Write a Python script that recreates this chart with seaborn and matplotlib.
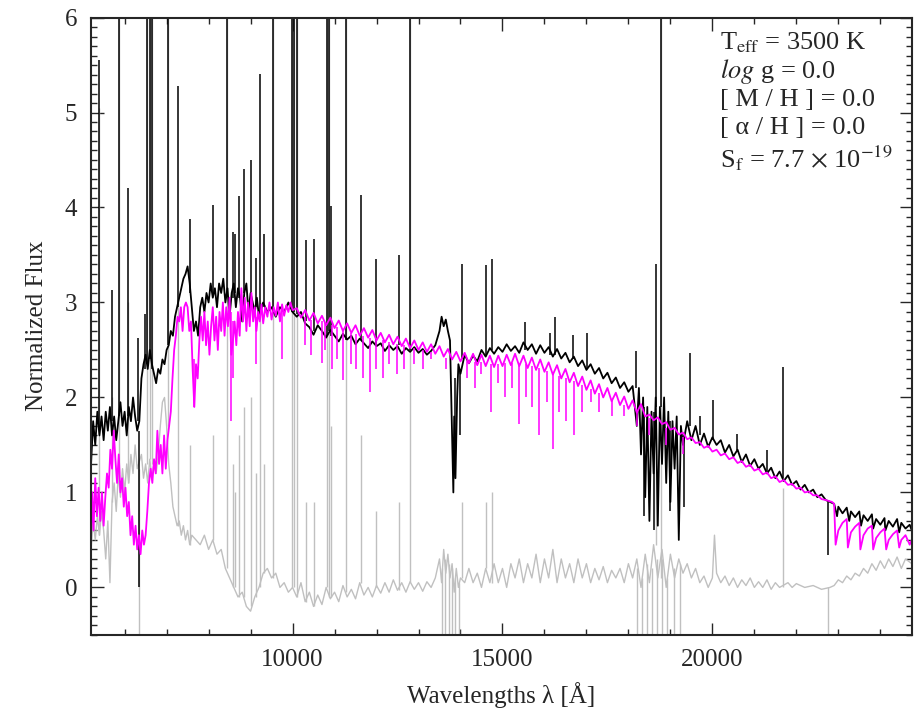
# Observed spectrum vs. model fit (normalised flux)
import numpy as np
import pandas as pd
import matplotlib
matplotlib.use("Agg")
import matplotlib.pyplot as plt
import seaborn as sns
from matplotlib.ticker import MultipleLocator

# ---- observed spectrum (black), continuum part ----
black_wl = [5200, 5250, 5300, 5350, 5400, 5450, 5500, 5550, 5600, 5650, 5700, 5750, 5800, 5850, 5900, 5950,
            6000, 6050, 6100, 6150, 6200, 6250, 6300, 6350, 6400, 6450, 6500, 6550, 6600, 6650, 6700, 6750,
            6800, 6850, 6900, 6950, 7000, 7050, 7100, 7150, 7200, 7250, 7300, 7350, 7400, 7450, 7500, 7550,
            7600, 7650, 7700, 7750, 7800, 7850, 7900, 7950, 8000, 8050, 8100, 8150, 8200, 8250, 8300, 8350,
            8400, 8450, 8500, 8550, 8600, 8650, 8700, 8750, 8800, 8850, 8900, 8950, 9000, 9050, 9100, 9150,
            9200, 9300, 9400, 9500, 9600, 9700, 9800, 9900, 10000,
            10100, 10200, 10300, 10400, 10500, 10600, 10700, 10800, 10900, 11000, 11100, 11200, 11300, 11400,
            11500, 11600, 11700, 11800, 11900, 12000, 12100, 12200, 12300, 12400, 12500, 12600, 12700, 12800,
            12900, 13000, 13100, 13200, 13300, 13400, 13500, 13550, 13600, 13650, 13700, 13750, 13800, 13830,
            13850, 13880, 13920, 13950, 14000, 14100, 14200, 14300, 14400, 14500, 14600, 14700, 14800, 14900,
            15000, 15100, 15200, 15300, 15400, 15500, 15600, 15700, 15800, 15900, 16000, 16100, 16200, 16300,
            16400, 16500, 16600, 16700, 16800, 16900, 17000, 17100, 17200, 17300, 17400, 17500, 17600, 17700,
            17800, 17900, 18000, 18100, 18200, 18250, 18300, 18350, 18400, 18450, 18500, 18550, 18600, 18650,
            18700, 18750, 18800, 18850, 18900, 18950, 19000, 19050, 19100, 19150, 19200, 19250, 19300, 19400,
            19500, 19600, 19700, 19800, 19900, 20000, 20100, 20200, 20300, 20400, 20500, 20600, 20700, 20800,
            20900, 21000, 21100, 21200, 21300, 21400, 21500, 21600, 21700, 21800, 21900, 22000, 22100, 22200,
            22300, 22400, 22500, 22600, 22700, 22800, 22900, 22970, 23000, 23100, 23200, 23260, 23300, 23400,
            23500, 23540, 23600, 23700, 23800, 23830, 23900, 24000, 24100, 24120, 24200, 24300, 24400, 24450,
            24500, 24600, 24700, 24750]
black_flux = [1.30, 1.75, 1.50, 1.85, 1.60, 1.80, 1.55, 1.85, 1.65, 1.90, 1.60, 1.80, 1.55, 1.75, 1.95, 1.70,
              1.85, 1.60, 1.90, 1.75, 2.00, 1.80, 1.65, 1.75, 2.20, 2.35, 2.45, 2.30, 2.50, 2.35, 2.25, 2.15,
              2.30, 2.25, 2.40, 2.35, 2.50, 2.55, 2.70, 2.65, 2.85, 2.95, 3.05, 3.15, 3.25, 3.30, 3.38, 3.20,
              2.95, 2.70, 2.80, 2.65, 2.95, 3.05, 2.90, 3.10, 3.00, 3.20, 3.05, 3.15, 2.95, 3.20, 3.10, 3.25,
              3.00, 3.15, 2.85, 3.10, 3.20, 2.95, 3.15, 3.05, 2.80, 3.10, 3.20, 2.90, 3.10, 3.00, 2.90, 3.05,
              2.85, 3.00, 2.90, 2.95, 2.85, 2.95, 2.90, 3.00, 2.90,
              2.85, 2.90, 2.78, 2.74, 2.66, 2.76, 2.70, 2.63, 2.71, 2.65, 2.59, 2.67, 2.61, 2.65,
              2.56, 2.62, 2.57, 2.52, 2.59, 2.54, 2.57, 2.49, 2.55, 2.50, 2.54, 2.46, 2.52, 2.48,
              2.53, 2.47, 2.51, 2.45, 2.49, 2.55, 2.70, 2.85, 2.75, 2.82, 2.70, 2.60, 1.60, 1.00,
              1.80, 1.15, 2.00, 2.35, 2.25, 2.45, 2.36, 2.44, 2.38, 2.50, 2.43, 2.52, 2.46, 2.53,
              2.48, 2.56, 2.49, 2.54, 2.47, 2.58, 2.50, 2.56, 2.46, 2.55, 2.47, 2.53, 2.43, 2.51,
              2.41, 2.47, 2.37, 2.43, 2.33, 2.39, 2.29, 2.35, 2.25, 2.31, 2.20, 2.26, 2.15, 2.21,
              2.10, 2.16, 2.06, 2.12, 1.70, 2.10, 1.40, 2.00, 0.95, 1.90, 0.70, 1.85, 1.20, 2.00,
              0.65, 1.90, 1.30, 2.00, 1.10, 1.85, 0.90, 1.75, 1.25, 1.80, 0.50, 1.70, 1.50, 1.75,
              1.55, 1.70, 1.50, 1.62, 1.48, 1.58, 1.50, 1.55, 1.42, 1.50, 1.38, 1.45, 1.32, 1.40,
              1.28, 1.35, 1.25, 1.30, 1.20, 1.26, 1.15, 1.22, 1.12, 1.18, 1.08, 1.12, 1.03, 1.08,
              1.00, 1.03, 0.95, 0.98, 0.92, 0.90, 0.88, 0.75, 0.85, 0.78, 0.84, 0.70, 0.80, 0.74,
              0.80, 0.65, 0.76, 0.70, 0.77, 0.62, 0.72, 0.66, 0.73, 0.60, 0.70, 0.64, 0.72, 0.58,
              0.68, 0.62, 0.66, 0.60]

# emission spikes in the observed spectrum: wavelength, foot, peak (6.5 = off the top)
black_spike_wl = [5380, 5700, 5857, 6072, 6327, 6477, 6535, 6606, 6661, 7043, 7264, 7567, 8116, 8443,
                  8576, 8640, 8736, 8855, 9015, 9141, 9230, 9308, 9530, 9993, 10024, 10112, 10310, 10501,
                  10818, 10866, 10923, 11281, 11622, 11980, 12535, 12807, 14038, 14603, 14753, 15530,
                  16130, 16250, 16680, 17020, 18180, 18650, 18770, 19470, 19700, 20020, 20590, 21300, 21690]
black_spike_base = [1.70, 1.75, 1.80, 1.80, 1.75, 2.30, 2.35, 2.40, 2.30, 2.55, 2.95, 3.10, 3.10, 3.10,
                    3.05, 3.10, 3.05, 3.10, 3.05, 2.95, 2.90, 2.95, 2.90, 2.90, 2.90, 2.88, 2.80, 2.70,
                    2.65, 2.70, 2.65, 2.60, 2.60, 2.55, 2.55, 2.50, 2.40, 2.45, 2.50, 2.50,
                    2.45, 2.45, 2.40, 2.30, 2.10, 1.90, 1.90, 1.70, 1.60, 1.55, 1.45, 1.20, 1.15]
black_spike_top = [5.55, 3.13, 6.5, 4.20, 2.63, 2.88, 6.5, 6.5, 6.5, 6.5, 5.28, 3.88, 4.03, 6.5,
                   3.74, 3.72, 4.12, 4.40, 4.50, 3.47, 5.41, 3.72, 6.5, 6.5, 6.5, 6.5, 3.66, 3.67,
                   6.5, 6.5, 4.02, 6.5, 4.13, 3.46, 3.50, 6.5, 3.41, 3.39, 3.46, 2.79,
                   2.68, 2.85, 2.66, 2.68, 2.49, 3.41, 6.5, 2.47, 1.80, 1.97, 1.62, 1.45, 2.32]
# deep absorption dips in the observed spectrum
black_dip_wl = [6351, 13870, 13980, 18380, 18610, 19000, 19330, 22750]
black_dip_top = [1.65, 2.20, 2.30, 1.90, 1.85, 1.75, 1.60, 0.92]
black_dip_bottom = [0.00, 1.25, 1.60, 0.75, 0.60, 0.80, 0.85, 0.34]

# ---- residual (grey) ----
gray_wl = [5200, 5250, 5300, 5350, 5400, 5450, 5500, 5550, 5600, 5650, 5700, 5750, 5800, 5850, 5900, 5950,
           6000, 6050, 6100, 6150, 6200, 6250, 6300, 6400, 6450, 6500, 6550, 6600, 6650, 6700, 6750, 6800,
           6850, 6900, 6950, 7000, 7050, 7100, 7150, 7200, 7250, 7300, 7350, 7400, 7450, 7500, 7550, 7600,
           7700, 7800, 7900, 8000, 8100, 8200, 8300, 8400, 8500, 8600, 8700, 8800, 8900, 9000, 9100, 9200,
           9300, 9400, 9500, 9600, 9700, 9800, 9900, 10000,
           10100, 10200, 10300, 10400, 10500, 10600, 10700, 10800, 10900, 11000, 11100, 11200, 11300, 11400,
           11500, 11600, 11700, 11800, 11900, 12000, 12100, 12200, 12300, 12400, 12500, 12600, 12700, 12800,
           12900, 13000, 13100, 13200, 13300, 13400, 13500, 13550, 13600, 13650, 13700, 13750, 13800, 13850,
           13900, 13950, 14000, 14100, 14200, 14300, 14400, 14500, 14600, 14700, 14800, 14900, 15000, 15100,
           15200, 15300, 15400, 15500, 15600, 15700, 15800, 15900, 16000, 16100, 16200, 16300, 16400, 16500,
           16600, 16700, 16800, 16900, 17000, 17100, 17200, 17300, 17400, 17500, 17600, 17700, 17800, 17900,
           18000, 18100, 18200, 18300, 18400, 18500, 18600, 18700, 18800, 18900, 19000, 19100, 19200, 19300,
           19400, 19500, 19600, 19700, 19800, 19900, 20000, 20050, 20100, 20200, 20300, 20400, 20500, 20600,
           20700, 20800, 20900, 21000, 21100, 21200, 21300, 21400, 21500, 21600, 21800, 21900, 22000, 22200,
           22400, 22600, 22800, 22900, 23000, 23100, 23200, 23300, 23400, 23500, 23600, 23700, 23800, 23900,
           24000, 24100, 24200, 24300, 24400, 24500, 24600, 24750]
gray_flux = [0.40, 0.70, 0.50, 0.75, 0.55, 0.80, 0.60, 0.30, 0.70, 0.05, 0.90, 1.10, 0.80, 1.20, 0.95, 1.25,
             1.00, 1.30, 1.10, 1.40, 1.20, 1.50, 1.25, 1.40, 1.15, 1.30, 1.10, 1.35, 1.15, 1.30, 1.20, 1.40,
             1.70, 1.95, 2.00, 1.70, 1.30, 1.10, 0.85, 0.75, 0.65, 0.70, 0.55, 0.65, 0.50, 0.60, 0.45, 0.55,
             0.50, 0.45, 0.55, 0.40, 0.50, 0.35, 0.40, 0.20, 0.10, 0.00, -0.10, -0.05, -0.20, -0.25, -0.10, 0.00,
             0.15, 0.20, 0.10, 0.15, 0.00, 0.05, -0.05, 0.00,
             -0.10, 0.05, -0.15, -0.05, -0.20, -0.08, -0.18, 0.00, -0.12, -0.05, -0.15, 0.02, -0.10, -0.02,
             -0.12, 0.05, -0.08, 0.00, -0.10, 0.02, -0.06, 0.05, -0.05, 0.08, -0.03, 0.05, -0.05, 0.06,
             -0.02, 0.05, -0.04, 0.06, 0.00, 0.10, 0.30, 0.05, 0.40, 0.15, 0.35, 0.10, 0.25, -0.05,
             0.20, 0.00, 0.10, 0.05, 0.20, 0.05, 0.15, 0.00, 0.20, 0.05, 0.25, 0.05, 0.20, 0.00,
             0.25, 0.10, 0.30, 0.05, 0.25, 0.10, 0.35, 0.05, 0.30, 0.10, 0.40, 0.05, 0.30, 0.10,
             0.25, 0.05, 0.30, 0.10, 0.25, 0.05, 0.20, 0.08, 0.22, 0.05, 0.18, 0.10, 0.20, 0.05,
             0.25, 0.10, 0.30, 0.00, 0.35, 0.05, 0.45, 0.10, 0.40, 0.00, 0.35, 0.10, 0.30, 0.15,
             0.25, 0.10, 0.20, 0.05, 0.12, 0.00, 0.10, 0.55, 0.15, 0.05, 0.12, 0.02, 0.10, 0.00,
             0.08, 0.02, 0.10, 0.00, 0.06, 0.00, 0.08, -0.02, 0.05, 0.00, 0.05, 0.00, 0.04, 0.00,
             0.02, -0.02, 0.00, 0.02, 0.08, 0.05, 0.12, 0.08, 0.15, 0.12, 0.20, 0.15, 0.25, 0.18,
             0.28, 0.20, 0.30, 0.22, 0.32, 0.20, 0.30, 0.25]

gray_spike_wl = [5380, 5700, 5857, 6072, 6535, 6606, 6661, 7043, 7264, 7567, 8116, 8443, 8576, 8640,
                 8736, 8855, 9015, 9141, 9230, 9308, 9530, 9993, 10024, 10112, 10310, 10501, 10818, 10866,
                 10923, 11281, 11622, 11980, 12535, 12807, 14038, 14603, 14753, 18650, 18770, 21690]
gray_spike_base = [0.55, 0.90, 1.20, 1.10, 1.30, 1.35, 1.30, 1.70, 0.65, 0.45, 0.50, 0.20, 0.00, 0.00,
                   -0.10, -0.10, -0.20, -0.10, 0.00, 0.15, 0.10, 0.00, 0.00, -0.10, -0.15, -0.20, 0.00, -0.10,
                   -0.10, -0.05, 0.05, 0.00, -0.03, 0.06, 0.10, 0.20, 0.05, 0.45, 0.10, 0.00]
gray_spike_top = [5.05, 2.00, 6.5, 3.00, 6.5, 6.5, 6.5, 6.5, 3.00, 1.50, 1.60, 6.5, 1.30, 1.00,
                  1.60, 1.90, 2.00, 1.20, 3.00, 1.30, 6.5, 6.5, 6.5, 6.5, 0.90, 0.90, 6.5, 6.5,
                  1.70, 6.5, 1.60, 0.80, 0.90, 6.5, 0.90, 0.90, 1.00, 1.80, 6.5, 1.05]
# residual dips that run off the bottom of the plot
gray_dip_wl = [6351, 13570, 13640, 13720, 13800, 13870, 13960, 18210, 18320, 18440, 18560, 18690,
               18810, 18930, 19080, 19240, 22750]
gray_dip_top = [1.25, 0.20, 0.30, 0.25, 0.20, 0.10, 0.05, 0.20, 0.10, 0.25, 0.20, 0.30,
                0.30, 0.10, 0.20, 0.25, 0.00]
gray_dip_bottom = [-0.6] * len(gray_dip_wl)

# ---- model spectrum (magenta) ----
model_wl = [5200, 5230, 5260, 5300, 5340, 5380, 5420, 5460, 5500, 5540, 5580, 5620, 5660, 5700, 5740, 5780,
            5820, 5860, 5900, 5940, 5980, 6020, 6060, 6100, 6140, 6180, 6220, 6260, 6300, 6340, 6380, 6420,
            6460, 6500, 6540, 6580, 6620, 6660, 6700, 6740, 6780, 6820, 6860, 6900, 6940, 6980, 7020, 7060,
            7100, 7140, 7180, 7220, 7260, 7300, 7340, 7380, 7420, 7460, 7500, 7540, 7580, 7620, 7660, 7700,
            7740, 7780, 7820, 7860, 7900, 7940, 7980, 8020, 8060, 8100, 8140, 8180, 8220, 8260, 8300, 8340,
            8380, 8420, 8460, 8500, 8540, 8580, 8620, 8660, 8700, 8740, 8780, 8820, 8860, 8900, 8940, 8980,
            9020, 9060, 9100, 9140, 9180, 9220, 9260, 9300, 9350, 9400, 9450, 9500, 9550, 9600, 9650, 9700,
            9750, 9800, 9850, 9900, 9950, 10000,
            10100, 10200, 10300, 10400, 10500, 10600, 10700, 10800, 10900, 11000, 11100, 11200, 11300, 11400,
            11500, 11600, 11700, 11800, 11900, 12000, 12100, 12200, 12300, 12400, 12500, 12600, 12700, 12800,
            12900, 13000, 13100, 13200, 13300, 13400, 13500, 13600, 13700, 13800, 13900, 14000, 14100, 14200,
            14300, 14400, 14500, 14600, 14700, 14800, 14900, 15000, 15100, 15200, 15300, 15400, 15500, 15600,
            15700, 15800, 15900, 16000, 16100, 16200, 16300, 16400, 16500, 16600, 16700, 16800, 16900, 17000,
            17100, 17200, 17300, 17400, 17500, 17600, 17700, 17800, 17900, 18000, 18100, 18200, 18300, 18400,
            18500, 18600, 18700, 18800, 18900, 19000, 19100, 19200, 19300, 19400, 19500, 19600, 19700, 19800,
            19900, 20000, 20100, 20200, 20300, 20400, 20500, 20600, 20700, 20800, 20900, 21000, 21100, 21200,
            21300, 21400, 21500, 21600, 21700, 21800, 21900, 22000, 22100, 22200, 22300, 22400, 22500, 22600,
            22700, 22850, 22900, 22935, 23000, 23100, 23200, 23227, 23300, 23400, 23500, 23525, 23600, 23700,
            23800, 23830, 23900, 24000, 24100, 24140, 24200, 24300, 24400, 24450, 24500, 24600, 24700, 24750]
model_flux = [0.55, 1.00, 0.60, 1.15, 0.75, 1.05, 0.70, 1.00, 0.65, 0.95, 1.20, 1.05, 1.45, 1.25, 1.65, 1.35,
              1.10, 1.40, 1.00, 1.15, 0.85, 1.05, 0.75, 0.90, 0.55, 0.75, 0.45, 0.65, 0.40, 0.55, 0.35, 0.60,
              0.45, 0.55, 0.80, 1.10, 1.25, 1.10, 1.35, 1.20, 1.65, 1.30, 1.50, 1.20, 1.60, 1.25, 1.55, 1.70,
              1.85, 2.20, 2.50, 2.65, 2.85, 2.80, 2.95, 2.70, 2.95, 3.00, 2.95, 2.70, 2.80, 2.30, 1.90, 2.35,
              2.20, 2.60, 2.85, 2.60, 2.90, 2.55, 2.80, 2.45, 2.75, 2.95, 2.60, 2.85, 2.50, 2.90, 2.70, 3.00,
              2.65, 2.95, 2.75, 3.05, 2.45, 2.60, 2.80, 2.55, 2.90, 2.65, 3.15, 2.80, 3.05, 2.70, 3.00, 2.75,
              3.10, 2.80, 2.95, 2.70, 2.90, 2.80, 2.98, 2.78, 2.95, 2.85, 3.00, 2.82, 2.95, 2.86, 3.00, 2.80,
              2.98, 2.86, 2.97, 2.90, 3.00, 2.92,
              2.94, 2.84, 2.92, 2.81, 2.89, 2.78, 2.86, 2.76, 2.84, 2.73, 2.81, 2.70, 2.78, 2.68,
              2.76, 2.65, 2.73, 2.63, 2.71, 2.60, 2.68, 2.58, 2.66, 2.56, 2.64, 2.54, 2.62, 2.52,
              2.60, 2.50, 2.58, 2.48, 2.56, 2.46, 2.54, 2.43, 2.51, 2.40, 2.48, 2.38, 2.47, 2.36,
              2.46, 2.34, 2.45, 2.33, 2.44, 2.32, 2.44, 2.33, 2.45, 2.34, 2.46, 2.33, 2.44, 2.31,
              2.42, 2.29, 2.40, 2.27, 2.37, 2.24, 2.34, 2.20, 2.30, 2.16, 2.26, 2.12, 2.22, 2.08,
              2.18, 2.04, 2.14, 2.00, 2.10, 1.96, 2.05, 1.92, 2.01, 1.88, 1.97, 1.84, 1.93, 1.80,
              1.82, 1.76, 1.79, 1.72, 1.74, 1.66, 1.68, 1.61, 1.63, 1.56, 1.58, 1.52, 1.53, 1.47,
              1.49, 1.43, 1.45, 1.39, 1.41, 1.35, 1.37, 1.31, 1.33, 1.27, 1.29, 1.23, 1.25, 1.19,
              1.21, 1.15, 1.17, 1.11, 1.13, 1.08, 1.09, 1.04, 1.05, 1.00, 1.01, 0.97, 0.97, 0.93,
              0.92, 0.90, 0.88, 0.45, 0.60, 0.68, 0.72, 0.42, 0.58, 0.64, 0.68, 0.40, 0.55, 0.62,
              0.65, 0.40, 0.52, 0.58, 0.62, 0.40, 0.50, 0.56, 0.60, 0.42, 0.50, 0.55, 0.45, 0.50]

# narrow absorption lines in the model: wavelength, level left, depth reached
model_dip_wl = [7660, 8540, 8590, 9140, 9760, 10300, 10450, 10690, 10780, 10950, 11050, 11210, 11400,
                11520, 11680, 11850, 11990, 12150, 12300, 12480, 12650, 12900, 13100, 13300, 13650,
                14150, 14350, 14500, 14720, 14900, 15050, 15230, 15400, 15550, 15700, 15880, 16050,
                16200, 16350, 16520, 16700, 16900, 17100, 17300, 17600, 17900, 18200, 18500, 18900, 19300]
model_dip_top = [2.40, 2.90, 2.80, 2.85, 2.95, 2.85, 2.82, 2.80, 2.78, 2.76, 2.74, 2.71, 2.68,
                 2.67, 2.65, 2.63, 2.61, 2.60, 2.58, 2.56, 2.55, 2.52, 2.50, 2.48, 2.42,
                 2.38, 2.37, 2.37, 2.35, 2.35, 2.36, 2.36, 2.35, 2.35, 2.33, 2.31, 2.28,
                 2.25, 2.23, 2.20, 2.17, 2.13, 2.09, 2.05, 1.97, 1.92, 1.85, 1.78, 1.68, 1.58]
model_dip_bottom = [1.90, 1.75, 2.20, 2.35, 2.40, 2.55, 2.45, 2.36, 2.50, 2.30, 2.40, 2.18, 2.35,
                    2.30, 2.20, 2.06, 2.30, 2.20, 2.35, 2.25, 2.30, 2.35, 2.30, 2.40, 2.30,
                    2.20, 2.10, 2.25, 1.85, 2.15, 2.00, 2.10, 1.72, 2.00, 1.90, 1.60, 1.95,
                    1.46, 1.85, 1.75, 1.60, 1.85, 1.95, 1.85, 1.80, 1.80, 1.70, 1.60, 1.50, 1.40]

labels = [r"T$_{\mathrm{eff}}$ = 3500 K",
          r"$\mathit{log}$ g = 0.0",
          "[ M / H ] = 0.0",
          "[ α / H ] = 0.0",
          r"S$_{\mathrm{f}}$ = 7.7 $\times$ 10$^{-19}$"]

BLACK = "#000000"
MAGENTA = "#ff00ff"
GREY = "#c0c0c0"

sns.set_style("ticks")
plt.rcParams["font.family"] = ["Liberation Serif", "DejaVu Serif"]
plt.rcParams["mathtext.fontset"] = "stix"

fig = plt.figure(figsize=(9.15, 7.15), dpi=100)
ax = fig.add_axes([0.0995, 0.112, 0.897, 0.8635])

gray_df = pd.DataFrame({"wl": gray_wl, "flux": gray_flux})
black_df = pd.DataFrame({"wl": black_wl, "flux": black_flux})
model_df = pd.DataFrame({"wl": model_wl, "flux": model_flux})

# residual first, then observation, model on top
sns.lineplot(data=gray_df, x="wl", y="flux", color=GREY, lw=1.0, estimator=None, sort=False, ax=ax)
ax.vlines(gray_spike_wl, gray_spike_base, gray_spike_top, color=GREY, lw=1.0)
ax.vlines(gray_dip_wl, gray_dip_bottom, gray_dip_top, color=GREY, lw=1.0)

sns.lineplot(data=black_df, x="wl", y="flux", color=BLACK, lw=1.3, estimator=None, sort=False, ax=ax)
ax.vlines(black_spike_wl, black_spike_base, black_spike_top, color=BLACK, lw=1.1)
ax.vlines(black_dip_wl, black_dip_bottom, black_dip_top, color=BLACK, lw=1.1)

sns.lineplot(data=model_df, x="wl", y="flux", color=MAGENTA, lw=1.3, estimator=None, sort=False, ax=ax)
ax.vlines(model_dip_wl, model_dip_bottom, model_dip_top, color=MAGENTA, lw=1.1)

ax.set_xlim(5200, 24750)
ax.set_ylim(-0.5, 6)
ax.xaxis.set_major_locator(MultipleLocator(5000))
ax.xaxis.set_minor_locator(MultipleLocator(1000))
ax.yaxis.set_major_locator(MultipleLocator(1))
ax.yaxis.set_minor_locator(MultipleLocator(0.1))
ax.tick_params(which="both", direction="in", top=True, right=True, labelsize=18, width=1.0)
ax.tick_params(which="major", length=9, pad=10)
ax.tick_params(which="minor", length=4.5)
for sp in ax.spines.values():
    sp.set_linewidth(1.5)

ax.set_xlabel("Wavelengths λ [Å]", fontsize=18, labelpad=8)
ax.set_ylabel("Normalized Flux", fontsize=18, labelpad=12)

ypos = [0.960, 0.913, 0.866, 0.821, 0.772]
for txt, yy in zip(labels, ypos):
    ax.text(0.766, yy, txt, transform=ax.transAxes, fontsize=19, va="center", ha="left")

fig.savefig("out.png", dpi=100)
